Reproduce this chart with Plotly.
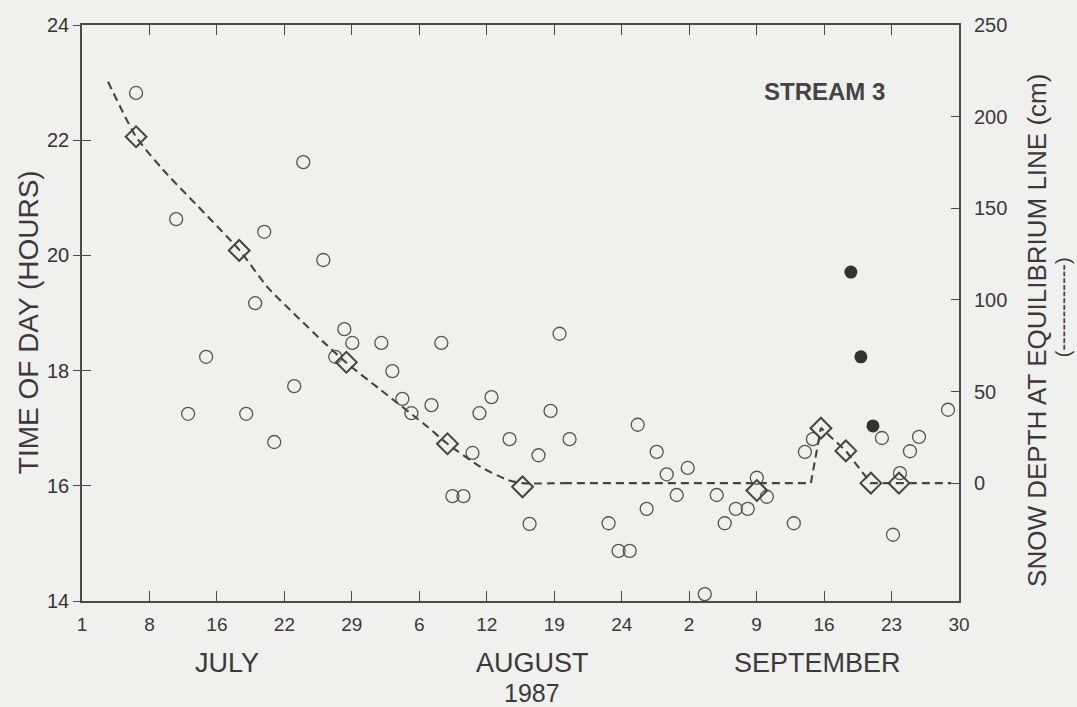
import plotly.graph_objects as go

# x is days since 1 July 1987; ticks fall every 7 days
tick_days = [0, 7, 14, 21, 28, 35, 42, 49, 56, 63, 70, 77, 84, 91]
tick_labels = ["1", "8", "16", "22", "29", "6", "12", "19", "24", "2", "9", "16", "23", "30"]

# Daily time of peak stream discharge (hours)
peak_day = [5.61, 9.77, 11.01, 12.88, 17.04, 17.97, 18.91, 19.95, 22.02, 22.96,
            25.04, 26.28, 27.22, 28.05, 31.06, 32.20, 33.24, 34.18, 36.26, 37.29,
            38.44, 39.58, 40.52, 41.24, 42.49, 44.36, 46.44, 47.37, 48.62, 49.55,
            50.59, 54.64, 55.68, 56.83, 57.66, 58.59, 59.63, 60.67, 61.71, 62.85,
            64.62, 65.86, 66.69, 67.84, 69.08, 70.02, 71.06, 73.86, 75.01, 75.84,
            83.00, 84.15, 84.87, 85.91, 86.85, 89.86]
peak_hour = [22.82, 20.63, 17.25, 18.24, 17.25, 19.17, 20.41, 16.76, 17.73, 21.62,
             19.92, 18.24, 18.72, 18.48, 18.48, 17.99, 17.51, 17.26, 17.40, 18.48,
             15.82, 15.82, 16.57, 17.26, 17.54, 16.81, 15.34, 16.53, 17.30, 18.64,
             16.81, 15.35, 14.87, 14.87, 17.06, 15.60, 16.59, 16.20, 15.84, 16.31,
             14.12, 15.84, 15.35, 15.60, 15.60, 16.14, 15.81, 15.35, 16.59, 16.81,
             16.83, 15.15, 16.22, 16.60, 16.85, 17.32]

# Peak times on the days following fresh snowfall
snow_event_day = [79.78, 80.82, 82.07]
snow_event_hour = [19.71, 18.24, 17.04]

# Measured snow depth at the equilibrium line (cm)
depth_day = [5.61, 16.31, 27.43, 37.92, 45.71, 70.02, 76.67, 79.26, 81.86, 84.77]
depth_cm = [189, 127, 66, 21.5, -2, -4, 30, 17.6, 0, 0]

# Snow depth curve: smooth summer melt-out, then the September snowfall
melt_day = [2.70, 5.61, 8.41, 16.31, 19.22, 22.34, 25.04, 27.43, 30.96,
            35.84, 37.92, 41.35, 44.15, 45.71, 50.0]
melt_cm = [219, 189, 171, 127.3, 107.1, 90.7, 77.1, 65.7, 51,
           30.8, 21.5, 8.9, 1.8, 0, 0]
snowfall_day = [50.0, 75.63, 76.67, 79.26, 81.86, 90.17]
snowfall_cm = [0, 0, 30.2, 17.6, 0, 0]

hour_ticks = [14, 16, 18, 20, 22, 24]
depth_ticks = [0, 50, 100, 150, 200, 250]

INK = "#3a3a3a"
PAPER = "#f0f0ee"
FONT = "Liberation Sans, Arial, sans-serif"
DASH = dict(color="#444444", width=2.1, dash="8px,5px")

fig = go.Figure()

fig.add_trace(go.Scatter(
    x=melt_day, y=melt_cm, yaxis="y2", mode="lines",
    line=dict(shape="spline", smoothing=0.6, **DASH),
    hoverinfo="skip", showlegend=False))
fig.add_trace(go.Scatter(
    x=snowfall_day, y=snowfall_cm, yaxis="y2", mode="lines",
    line=DASH, hoverinfo="skip", showlegend=False))

fig.add_trace(go.Scatter(
    x=depth_day, y=depth_cm, yaxis="y2", mode="markers",
    marker=dict(symbol="diamond-open", size=16, color="#444444",
                line=dict(color="#444444", width=2)),
    showlegend=False))

fig.add_trace(go.Scatter(
    x=peak_day, y=peak_hour, mode="markers",
    marker=dict(symbol="circle-open", size=13, color="#555555",
                line=dict(color="#555555", width=1.3)),
    showlegend=False))

fig.add_trace(go.Scatter(
    x=snow_event_day, y=snow_event_hour, mode="markers",
    marker=dict(symbol="circle", size=13, color="#333333"),
    showlegend=False))

# a dummy trace keeps yaxis3 drawn
fig.add_trace(go.Scatter(x=[None], y=[None], yaxis="y3", showlegend=False,
                         hoverinfo="skip"))

axis_line = dict(showline=True, linecolor="#4a4a4a", linewidth=1.5,
                 showgrid=False, zeroline=False)

fig.update_layout(
    width=1077, height=707,
    margin=dict(l=82, r=118, t=25, b=106),
    paper_bgcolor=PAPER, plot_bgcolor=PAPER,
    font=dict(family=FONT, color=INK, size=19),
    xaxis=dict(range=[0, 91], tickvals=tick_days, ticktext=tick_labels,
               ticks="inside", ticklen=10, tickwidth=1.3, tickcolor="#4a4a4a",
               mirror="ticks", ticklabelstandoff=5,
               tickfont=dict(size=19, color=INK), **axis_line),
    yaxis=dict(range=[14, 24], tickvals=hour_ticks,
               ticks="outside", ticklen=7, tickwidth=1.3, tickcolor="#4a4a4a",
               mirror=True, tickfont=dict(size=20, color="#333333"), **axis_line),
    yaxis2=dict(range=[-64.3, 250], tickvals=depth_ticks, overlaying="y",
                side="right", anchor="x", ticks="inside", ticklen=8,
                tickwidth=1.3, tickcolor="#4a4a4a", ticklabelstandoff=14,
                tickfont=dict(size=20, color=INK),
                showline=False, showgrid=False, zeroline=False),
    # inner half of the crossing tick marks on the left axis
    yaxis3=dict(range=[14, 24], tickvals=hour_ticks, overlaying="y",
                side="left", anchor="x", ticks="inside", ticklen=9,
                tickwidth=1.3, tickcolor="#4a4a4a", showticklabels=False,
                showline=False, showgrid=False, zeroline=False),
)

month_day = [15.0, 46.7, 76.3]
month_name = ["JULY", "AUGUST", "SEPTEMBER"]
for d, name in zip(month_day, month_name):
    fig.add_annotation(x=d, xref="x", y=-0.108, yref="paper", text=name,
                       showarrow=False, font=dict(size=27, color=INK),
                       xanchor="center", yanchor="middle")
fig.add_annotation(x=46.7, xref="x", y=-0.160, yref="paper", text="1987",
                   showarrow=False, font=dict(size=25, color=INK),
                   xanchor="center", yanchor="middle")

fig.add_annotation(x=-0.0616, xref="paper", y=0.484, yref="paper",
                   text="TIME OF DAY (HOURS)", textangle=-90, showarrow=False,
                   font=dict(size=28, color=INK), xanchor="center", yanchor="middle")
fig.add_annotation(x=1.089, xref="paper", y=0.469, yref="paper",
                   text="SNOW DEPTH AT EQUILIBRIUM LINE (cm)", textangle=-90,
                   showarrow=False, font=dict(size=26, color=INK),
                   xanchor="center", yanchor="middle")
fig.add_annotation(x=1.1186, xref="paper", y=0.51, yref="paper",
                   text="(" + "-" * 13 + ")", textangle=-90, showarrow=False,
                   font=dict(size=20, color=INK), xanchor="center", yanchor="middle")

fig.add_annotation(x=0.847, xref="paper", y=0.884, yref="paper",
                   text="<b>STREAM 3</b>", showarrow=False,
                   font=dict(size=24, color="#444444"),
                   xanchor="center", yanchor="middle")

fig.write_html("out.html")
